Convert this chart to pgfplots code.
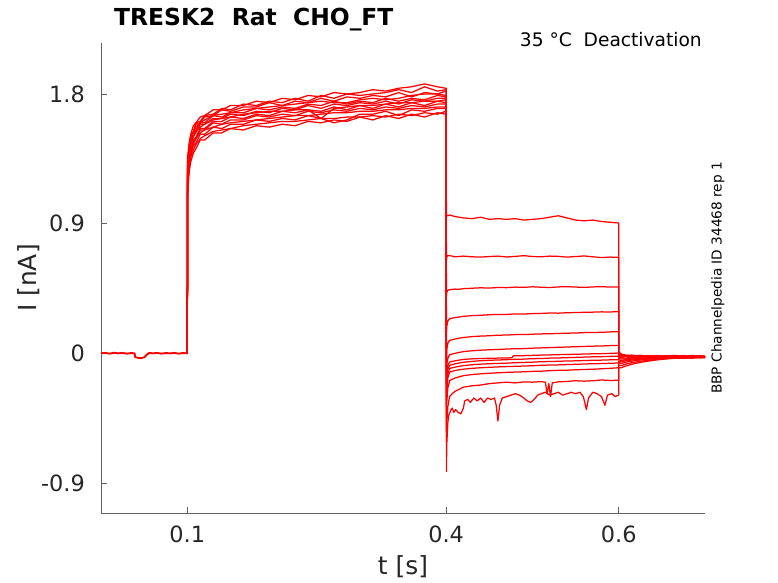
\documentclass[border=0pt]{standalone}
\usepackage{fontspec}
\setmainfont{DejaVu Sans}
\usepackage{pgfplots}
\pgfplotsset{compat=1.18}
\pgfplotsset{sw/.style={draw=red, line width=1.25bp, mark=none, line join=round}}
\begin{document}
\begin{tikzpicture}
\useasboundingbox (-101bp,-70bp) rectangle (677bp,513bp);
\begin{axis}[
  at={(0,0)}, anchor=south west,
  scale only axis, width=604bp, height=470bp,
  xmin=0, xmax=0.7, ymin=-1.108, ymax=2.154,
  axis x line*=bottom, axis y line*=left,
  axis line style={draw=black!62, line width=0.7bp},
  tick align=inside, major tick length=6bp,
  tick style={draw=black!62, line width=0.7bp},
  xtick={0.1,0.4,0.6}, xticklabels={0.1,0.4,0.6},
  ytick={-0.9,0,0.9,1.8}, yticklabels={-0.9,0,0.9,1.8},
  xticklabel style={font=\fontsize{22.5}{24}\selectfont, text=black!85, inner sep=0pt, anchor=north, yshift=-13bp},
  yticklabel style={font=\fontsize{22.5}{24}\selectfont, text=black!85, inner sep=0pt, anchor=east, xshift=-16bp},
  xlabel={t [s]}, ylabel={I [nA]},
  xlabel style={at={(axis description cs:0.5,-0.0894)}, anchor=north, inner sep=0pt, font=\fontsize{25}{27}\selectfont, text=black!85},
  ylabel style={at={(axis description cs:-0.139,0.5)}, rotate=0, anchor=north, inner sep=0pt, font=\fontsize{25}{27}\selectfont, text=black!85},
]
% baseline before the step (all sweeps overlap)
\addplot[sw, line width=1.9bp] coordinates {(0,0.0)(0.005,0.003)(0.01,-0.002)(0.015,0.004)(0.02,0.0)(0.025,0.003)(0.03,-0.002)(0.035,0.002)(0.039,0.0)(0.0395,-0.025)(0.042,-0.03)(0.046,-0.033)(0.05,-0.028)(0.052,-0.015)(0.054,-0.005)(0.056,0.003)(0.06,0.0)(0.065,0.003)(0.07,-0.002)(0.075,0.002)(0.08,0.0)(0.085,0.003)(0.09,-0.002)(0.095,0.002)(0.1,0.0)};
% sweep 1
\addplot[sw] coordinates {(0.1,0)(0.1003,1.33)(0.102,1.45)(0.104,1.52)(0.107,1.58)(0.11,1.60)(0.115,1.64)(0.12,1.65)(0.13,1.69)(0.14,1.69)(0.15,1.72)(0.165,1.72)(0.18,1.75)(0.195,1.74)(0.21,1.77)(0.225,1.76)(0.24,1.79)(0.255,1.78)(0.27,1.81)(0.285,1.80)(0.30,1.81)(0.315,1.83)(0.33,1.82)(0.345,1.84)(0.36,1.85)(0.375,1.87)(0.39,1.85)(0.3995,1.84)(0.4,1.84)
(0.4003,0.95)(0.4008,0.96)(0.402,0.955)(0.404,0.96)(0.407,0.955)(0.41,0.95)(0.415,0.945)(0.42,0.94)(0.43,0.935)(0.44,0.945)(0.45,0.93)(0.46,0.935)(0.47,0.93)(0.48,0.935)(0.49,0.925)(0.50,0.93)(0.51,0.935)(0.52,0.945)(0.53,0.955)(0.54,0.94)(0.55,0.925)(0.56,0.92)(0.57,0.925)(0.58,0.915)(0.59,0.91)(0.5995,0.905)(0.6,0.905)
(0.6,0.01)(0.603,-0.005)(0.608,-0.012)(0.615,-0.018)(0.625,-0.015)(0.635,-0.022)(0.645,-0.018)(0.655,-0.025)(0.665,-0.016)(0.675,-0.022)(0.685,-0.014)(0.695,-0.021)(0.7,-0.018)};
% sweep 2
\addplot[sw] coordinates {(0.1,0)(0.1003,1.24)(0.102,1.39)(0.104,1.47)(0.107,1.53)(0.11,1.55)(0.115,1.60)(0.12,1.60)(0.13,1.65)(0.14,1.64)(0.15,1.67)(0.165,1.67)(0.18,1.70)(0.195,1.69)(0.21,1.71)(0.225,1.70)(0.24,1.73)(0.255,1.72)(0.27,1.75)(0.285,1.73)(0.30,1.75)(0.315,1.74)(0.33,1.77)(0.345,1.75)(0.36,1.77)(0.375,1.76)(0.39,1.79)(0.3995,1.78)(0.4,1.78)
(0.4003,0.64)(0.4008,0.67)(0.402,0.68)(0.404,0.678)(0.407,0.675)(0.41,0.67)(0.415,0.672)(0.42,0.675)(0.43,0.67)(0.44,0.668)(0.45,0.672)(0.46,0.675)(0.47,0.669)(0.48,0.673)(0.49,0.678)(0.50,0.672)(0.51,0.67)(0.52,0.675)(0.53,0.673)(0.54,0.668)(0.55,0.672)(0.56,0.676)(0.57,0.67)(0.58,0.665)(0.59,0.668)(0.5995,0.667)(0.6,0.667)
(0.6,0.005)(0.603,-0.008)(0.608,-0.015)(0.615,-0.012)(0.625,-0.02)(0.635,-0.016)(0.645,-0.024)(0.655,-0.017)(0.665,-0.023)(0.675,-0.015)(0.685,-0.024)(0.695,-0.017)(0.7,-0.022)};
% sweep 3
\addplot[sw] coordinates {(0.1,0)(0.1003,1.28)(0.102,1.42)(0.104,1.50)(0.107,1.53)(0.11,1.59)(0.115,1.60)(0.12,1.64)(0.13,1.65)(0.14,1.69)(0.15,1.68)(0.165,1.71)(0.18,1.71)(0.195,1.74)(0.21,1.72)(0.225,1.75)(0.24,1.74)(0.255,1.77)(0.27,1.75)(0.285,1.78)(0.30,1.77)(0.315,1.79)(0.33,1.78)(0.345,1.81)(0.36,1.78)(0.375,1.81)(0.39,1.80)(0.3995,1.82)(0.4,1.82)
(0.4003,0.40)(0.4008,0.425)(0.402,0.437)(0.404,0.442)(0.407,0.444)(0.41,0.446)(0.415,0.445)(0.42,0.449)(0.43,0.452)(0.44,0.455)(0.45,0.453)(0.46,0.457)(0.47,0.456)(0.48,0.46)(0.49,0.458)(0.50,0.462)(0.51,0.459)(0.52,0.457)(0.53,0.461)(0.54,0.463)(0.55,0.46)(0.56,0.458)(0.57,0.461)(0.58,0.463)(0.59,0.46)(0.5995,0.461)(0.6,0.461)
(0.6,0.0)(0.603,-0.01)(0.608,-0.016)(0.615,-0.02)(0.625,-0.014)(0.635,-0.021)(0.645,-0.015)(0.655,-0.022)(0.665,-0.027)(0.675,-0.019)(0.685,-0.025)(0.695,-0.02)(0.7,-0.024)};
% sweep 4
\addplot[sw] coordinates {(0.1,0)(0.1003,1.18)(0.102,1.33)(0.104,1.41)(0.107,1.48)(0.11,1.50)(0.115,1.56)(0.12,1.56)(0.13,1.61)(0.14,1.61)(0.15,1.64)(0.165,1.63)(0.18,1.66)(0.195,1.65)(0.21,1.68)(0.225,1.67)(0.24,1.69)(0.255,1.68)(0.27,1.71)(0.285,1.69)(0.30,1.72)(0.315,1.70)(0.33,1.73)(0.345,1.71)(0.36,1.74)(0.375,1.72)(0.39,1.75)(0.3995,1.74)(0.4,1.74)
(0.4003,0.15)(0.4008,0.19)(0.402,0.225)(0.404,0.24)(0.407,0.244)(0.41,0.248)(0.415,0.252)(0.42,0.257)(0.43,0.262)(0.44,0.264)(0.45,0.268)(0.46,0.27)(0.47,0.27)(0.48,0.274)(0.49,0.273)(0.50,0.276)(0.51,0.277)(0.52,0.28)(0.53,0.279)(0.54,0.282)(0.55,0.283)(0.56,0.285)(0.57,0.286)(0.58,0.288)(0.59,0.287)(0.5995,0.29)(0.6,0.29)
(0.6,-0.005)(0.603,-0.014)(0.608,-0.02)(0.615,-0.016)(0.625,-0.024)(0.635,-0.018)(0.645,-0.026)(0.655,-0.02)(0.665,-0.014)(0.675,-0.024)(0.685,-0.018)(0.695,-0.027)(0.7,-0.021)};
% sweep 5
\addplot[sw] coordinates {(0.1,0)(0.1003,1.30)(0.102,1.43)(0.104,1.51)(0.107,1.54)(0.11,1.60)(0.115,1.61)(0.12,1.65)(0.13,1.66)(0.14,1.70)(0.15,1.69)(0.165,1.73)(0.18,1.72)(0.195,1.75)(0.21,1.74)(0.225,1.77)(0.24,1.75)(0.255,1.79)(0.27,1.77)(0.285,1.80)(0.30,1.79)(0.315,1.80)(0.33,1.81)(0.345,1.83)(0.36,1.81)(0.375,1.85)(0.39,1.82)(0.3995,1.83)(0.4,1.83)
(0.4003,-0.03)(0.4008,0.03)(0.402,0.07)(0.404,0.09)(0.407,0.095)(0.41,0.099)(0.415,0.105)(0.42,0.11)(0.43,0.116)(0.44,0.12)(0.45,0.122)(0.46,0.126)(0.47,0.127)(0.48,0.13)(0.49,0.13)(0.50,0.133)(0.51,0.135)(0.52,0.136)(0.53,0.138)(0.54,0.14)(0.55,0.141)(0.56,0.144)(0.57,0.145)(0.58,0.146)(0.59,0.149)(0.5995,0.15)(0.6,0.15)
(0.6,-0.012)(0.603,-0.02)(0.608,-0.017)(0.615,-0.025)(0.625,-0.019)(0.635,-0.027)(0.645,-0.021)(0.655,-0.016)(0.665,-0.025)(0.675,-0.03)(0.685,-0.021)(0.695,-0.016)(0.7,-0.02)};
% sweep 6
\addplot[sw] coordinates {(0.1,0)(0.1003,1.12)(0.102,1.30)(0.104,1.38)(0.107,1.44)(0.11,1.46)(0.115,1.52)(0.12,1.52)(0.13,1.57)(0.14,1.56)(0.15,1.59)(0.165,1.59)(0.18,1.62)(0.195,1.61)(0.21,1.63)(0.225,1.62)(0.24,1.65)(0.255,1.63)(0.27,1.60)(0.285,1.62)(0.30,1.66)(0.315,1.66)(0.33,1.68)(0.345,1.65)(0.36,1.69)(0.375,1.68)(0.39,1.70)(0.3995,1.70)(0.4,1.70)
(0.4003,-0.12)(0.4008,-0.07)(0.402,-0.035)(0.404,-0.01)(0.407,-0.005)(0.41,0.0)(0.415,0.006)(0.42,0.012)(0.43,0.018)(0.44,0.022)(0.45,0.025)(0.46,0.027)(0.47,0.03)(0.48,0.032)(0.49,0.033)(0.50,0.036)(0.51,0.038)(0.52,0.04)(0.53,0.042)(0.54,0.044)(0.55,0.046)(0.56,0.048)(0.57,0.05)(0.58,0.051)(0.59,0.054)(0.5995,0.055)(0.6,0.055)
(0.6,-0.018)(0.603,-0.025)(0.608,-0.022)(0.615,-0.03)(0.625,-0.024)(0.635,-0.02)(0.645,-0.028)(0.655,-0.023)(0.665,-0.019)(0.675,-0.026)(0.685,-0.031)(0.695,-0.022)(0.7,-0.026)};
% sweep 7
\addplot[sw] coordinates {(0.1,0)(0.1003,1.22)(0.102,1.36)(0.104,1.44)(0.107,1.51)(0.11,1.53)(0.115,1.59)(0.12,1.59)(0.13,1.63)(0.14,1.63)(0.15,1.66)(0.165,1.65)(0.18,1.68)(0.195,1.67)(0.21,1.70)(0.225,1.69)(0.24,1.72)(0.255,1.70)(0.27,1.73)(0.285,1.72)(0.30,1.74)(0.315,1.73)(0.33,1.75)(0.345,1.73)(0.36,1.76)(0.375,1.75)(0.39,1.77)(0.3995,1.77)(0.4,1.77)
(0.4003,-0.17)(0.4008,-0.12)(0.402,-0.085)(0.404,-0.06)(0.407,-0.056)(0.41,-0.052)(0.415,-0.047)(0.42,-0.042)(0.43,-0.038)(0.44,-0.036)(0.45,-0.034)(0.46,-0.033)(0.47,-0.032)(0.476,-0.031)(0.478,-0.017)(0.49,-0.016)(0.50,-0.014)(0.51,-0.012)(0.52,-0.011)(0.53,-0.009)(0.54,-0.008)(0.55,-0.006)(0.56,-0.005)(0.57,-0.003)(0.58,-0.002)(0.59,0.0)(0.5995,0.002)(0.6,0.002)
(0.6,-0.025)(0.603,-0.03)(0.608,-0.034)(0.615,-0.028)(0.625,-0.032)(0.635,-0.025)(0.645,-0.029)(0.655,-0.022)(0.665,-0.028)(0.675,-0.021)(0.685,-0.027)(0.695,-0.02)(0.7,-0.025)};
% sweep 8
\addplot[sw] coordinates {(0.1,0)(0.1003,1.08)(0.102,1.25)(0.104,1.33)(0.107,1.39)(0.11,1.42)(0.115,1.48)(0.12,1.48)(0.13,1.53)(0.14,1.53)(0.15,1.56)(0.165,1.55)(0.18,1.58)(0.195,1.57)(0.21,1.59)(0.225,1.58)(0.24,1.61)(0.255,1.60)(0.27,1.62)(0.285,1.61)(0.30,1.64)(0.315,1.62)(0.33,1.65)(0.345,1.63)(0.36,1.66)(0.375,1.64)(0.39,1.67)(0.3995,1.66)(0.4,1.66)
(0.4003,-0.22)(0.4008,-0.16)(0.402,-0.11)(0.404,-0.083)(0.407,-0.078)(0.41,-0.073)(0.415,-0.067)(0.42,-0.062)(0.43,-0.056)(0.44,-0.051)(0.45,-0.048)(0.46,-0.046)(0.47,-0.044)(0.48,-0.041)(0.49,-0.04)(0.50,-0.037)(0.51,-0.036)(0.52,-0.033)(0.53,-0.032)(0.54,-0.03)(0.55,-0.028)(0.56,-0.026)(0.57,-0.024)(0.58,-0.023)(0.59,-0.021)(0.5995,-0.02)(0.6,-0.02)
(0.6,-0.035)(0.603,-0.04)(0.608,-0.036)(0.615,-0.033)(0.625,-0.028)(0.635,-0.032)(0.645,-0.025)(0.655,-0.03)(0.665,-0.024)(0.675,-0.029)(0.685,-0.023)(0.695,-0.028)(0.7,-0.024)};
% sweep 9
\addplot[sw] coordinates {(0.1,0)(0.1003,1.36)(0.102,1.44)(0.104,1.50)(0.107,1.54)(0.11,1.57)(0.115,1.60)(0.12,1.62)(0.13,1.65)(0.14,1.66)(0.15,1.67)(0.165,1.69)(0.18,1.70)(0.195,1.71)(0.21,1.72)(0.225,1.73)(0.24,1.74)(0.255,1.75)(0.27,1.74)(0.285,1.74)(0.30,1.76)(0.315,1.77)(0.33,1.76)(0.345,1.77)(0.36,1.79)(0.375,1.80)(0.39,1.80)(0.3995,1.79)(0.4,1.79)
(0.4003,-0.28)(0.4008,-0.2)(0.402,-0.14)(0.404,-0.106)(0.407,-0.1)(0.41,-0.096)(0.415,-0.09)(0.42,-0.085)(0.43,-0.079)(0.44,-0.075)(0.45,-0.072)(0.46,-0.07)(0.47,-0.068)(0.48,-0.065)(0.49,-0.063)(0.50,-0.061)(0.51,-0.058)(0.52,-0.057)(0.53,-0.055)(0.54,-0.053)(0.55,-0.052)(0.56,-0.05)(0.57,-0.048)(0.58,-0.047)(0.59,-0.045)(0.5995,-0.044)(0.6,-0.044)
(0.6,-0.045)(0.603,-0.05)(0.608,-0.044)(0.615,-0.04)(0.625,-0.034)(0.635,-0.03)(0.645,-0.033)(0.655,-0.027)(0.665,-0.031)(0.675,-0.025)(0.685,-0.03)(0.695,-0.026)(0.7,-0.029)};
% sweep 10
\addplot[sw] coordinates {(0.1,0)(0.1003,1.15)(0.102,1.32)(0.104,1.40)(0.107,1.47)(0.11,1.49)(0.115,1.55)(0.12,1.55)(0.13,1.60)(0.14,1.59)(0.15,1.62)(0.165,1.62)(0.18,1.65)(0.195,1.64)(0.21,1.66)(0.225,1.65)(0.24,1.68)(0.255,1.67)(0.27,1.69)(0.285,1.68)(0.30,1.70)(0.315,1.69)(0.33,1.71)(0.345,1.70)(0.36,1.72)(0.375,1.71)(0.39,1.73)(0.3995,1.73)(0.4,1.73)
(0.4003,-0.35)(0.4008,-0.25)(0.402,-0.17)(0.404,-0.13)(0.407,-0.124)(0.41,-0.12)(0.415,-0.114)(0.42,-0.11)(0.43,-0.104)(0.44,-0.1)(0.45,-0.097)(0.46,-0.094)(0.47,-0.092)(0.48,-0.09)(0.49,-0.088)(0.50,-0.086)(0.51,-0.083)(0.52,-0.081)(0.53,-0.08)(0.54,-0.078)(0.55,-0.076)(0.56,-0.074)(0.57,-0.072)(0.58,-0.071)(0.59,-0.069)(0.5995,-0.067)(0.6,-0.067)
(0.6,-0.055)(0.603,-0.06)(0.608,-0.052)(0.615,-0.046)(0.625,-0.04)(0.635,-0.036)(0.645,-0.031)(0.655,-0.034)(0.665,-0.028)(0.675,-0.032)(0.685,-0.026)(0.695,-0.03)(0.7,-0.027)};
% sweep 11
\addplot[sw] coordinates {(0.1,0)(0.1003,1.26)(0.102,1.38)(0.104,1.45)(0.107,1.50)(0.11,1.54)(0.115,1.57)(0.12,1.59)(0.13,1.62)(0.14,1.63)(0.15,1.64)(0.165,1.66)(0.18,1.67)(0.195,1.68)(0.21,1.68)(0.225,1.69)(0.24,1.69)(0.255,1.63)(0.27,1.70)(0.285,1.71)(0.30,1.72)(0.315,1.72)(0.33,1.73)(0.345,1.74)(0.36,1.74)(0.375,1.75)(0.39,1.75)(0.3995,1.76)(0.4,1.76)
(0.4003,-0.45)(0.4008,-0.33)(0.402,-0.24)(0.404,-0.19)(0.407,-0.18)(0.41,-0.172)(0.415,-0.163)(0.42,-0.155)(0.43,-0.147)(0.44,-0.142)(0.45,-0.138)(0.46,-0.135)(0.47,-0.132)(0.48,-0.13)(0.49,-0.128)(0.50,-0.125)(0.51,-0.124)(0.52,-0.12)(0.53,-0.118)(0.54,-0.117)(0.55,-0.114)(0.56,-0.112)(0.57,-0.11)(0.58,-0.107)(0.59,-0.104)(0.5995,-0.10)(0.6,-0.10)
(0.6,-0.065)(0.603,-0.07)(0.608,-0.062)(0.615,-0.054)(0.625,-0.046)(0.635,-0.04)(0.645,-0.036)(0.655,-0.031)(0.665,-0.034)(0.675,-0.028)(0.685,-0.032)(0.695,-0.025)(0.7,-0.029)};
% sweep 12
\addplot[sw] coordinates {(0.1,0)(0.1003,1.10)(0.102,1.28)(0.104,1.36)(0.107,1.41)(0.11,1.45)(0.115,1.49)(0.12,1.51)(0.13,1.54)(0.14,1.55)(0.15,1.56)(0.165,1.58)(0.18,1.59)(0.195,1.60)(0.21,1.61)(0.225,1.61)(0.24,1.62)(0.255,1.63)(0.27,1.63)(0.285,1.64)(0.30,1.64)(0.315,1.65)(0.33,1.64)(0.345,1.66)(0.36,1.65)(0.375,1.67)(0.39,1.66)(0.3995,1.68)(0.4,1.68)
(0.4003,-0.62)(0.4008,-0.48)(0.402,-0.37)(0.404,-0.30)(0.407,-0.28)(0.41,-0.265)(0.415,-0.25)(0.42,-0.235)(0.43,-0.225)(0.44,-0.22)(0.45,-0.21)(0.46,-0.205)(0.47,-0.2)(0.48,-0.205)(0.49,-0.198)(0.50,-0.2)(0.51,-0.196)(0.515,-0.2)(0.517,-0.28)(0.519,-0.21)(0.521,-0.3)(0.523,-0.205)(0.53,-0.198)(0.54,-0.195)(0.55,-0.19)(0.56,-0.193)(0.57,-0.19)(0.58,-0.185)(0.59,-0.188)(0.5995,-0.187)(0.6,-0.187)
(0.6,-0.08)(0.603,-0.085)(0.608,-0.075)(0.615,-0.065)(0.625,-0.055)(0.635,-0.047)(0.645,-0.041)(0.655,-0.036)(0.665,-0.031)(0.675,-0.035)(0.685,-0.028)(0.695,-0.032)(0.7,-0.027)};
% sweep 13
\addplot[sw] coordinates {(0.1,0)(0.1003,1.20)(0.102,1.33)(0.104,1.40)(0.107,1.45)(0.11,1.49)(0.115,1.53)(0.12,1.55)(0.13,1.57)(0.14,1.59)(0.15,1.60)(0.165,1.61)(0.18,1.62)(0.195,1.63)(0.21,1.64)(0.225,1.65)(0.24,1.65)(0.255,1.66)(0.27,1.67)(0.285,1.67)(0.30,1.68)(0.315,1.68)(0.33,1.69)(0.345,1.69)(0.36,1.70)(0.375,1.70)(0.39,1.71)(0.3995,1.71)(0.4,1.71)
(0.4003,-0.82)(0.4008,-0.62)(0.402,-0.48)(0.403,-0.43)(0.405,-0.40)(0.407,-0.38)(0.409,-0.41)(0.411,-0.39)(0.414,-0.41)(0.417,-0.42)(0.42,-0.38)(0.4215,-0.33)(0.425,-0.32)(0.428,-0.34)(0.432,-0.31)(0.436,-0.33)(0.44,-0.31)(0.444,-0.34)(0.448,-0.31)(0.452,-0.32)(0.456,-0.31)(0.458,-0.36)(0.460,-0.47)(0.462,-0.36)(0.465,-0.31)(0.47,-0.30)(0.475,-0.29)(0.48,-0.28)(0.485,-0.29)(0.49,-0.31)(0.494,-0.33)(0.498,-0.34)(0.502,-0.32)(0.506,-0.29)(0.51,-0.28)(0.515,-0.27)(0.52,-0.29)(0.525,-0.28)(0.53,-0.27)(0.535,-0.29)(0.54,-0.28)(0.545,-0.27)(0.55,-0.28)(0.555,-0.27)(0.559,-0.30)(0.5625,-0.39)(0.565,-0.31)(0.57,-0.27)(0.575,-0.28)(0.58,-0.30)(0.584,-0.36)(0.587,-0.29)(0.592,-0.28)(0.596,-0.30)(0.5995,-0.29)(0.6,-0.29)
(0.6,-0.1)(0.603,-0.1)(0.608,-0.088)(0.615,-0.076)(0.625,-0.063)(0.635,-0.053)(0.645,-0.045)(0.655,-0.039)(0.665,-0.034)(0.675,-0.03)(0.685,-0.033)(0.695,-0.027)(0.7,-0.031)};
\end{axis}
\node[anchor=base west, inner sep=0pt, font=\bfseries\fontsize{23.5}{26}\selectfont] at (13bp,487bp) {TRESK2\ \ Rat\ \ CHO\_FT};
\node[anchor=base east, inner sep=0pt, font=\fontsize{18.7}{20}\selectfont] at (601bp,466bp) {35 °C\ \ Deactivation};
\node[rotate=90, anchor=base, inner sep=0pt, font=\fontsize{13.7}{15}\selectfont] at (620.7bp,235bp) {BBP Channelpedia ID 34468 rep 1};
\end{tikzpicture}
\end{document}
